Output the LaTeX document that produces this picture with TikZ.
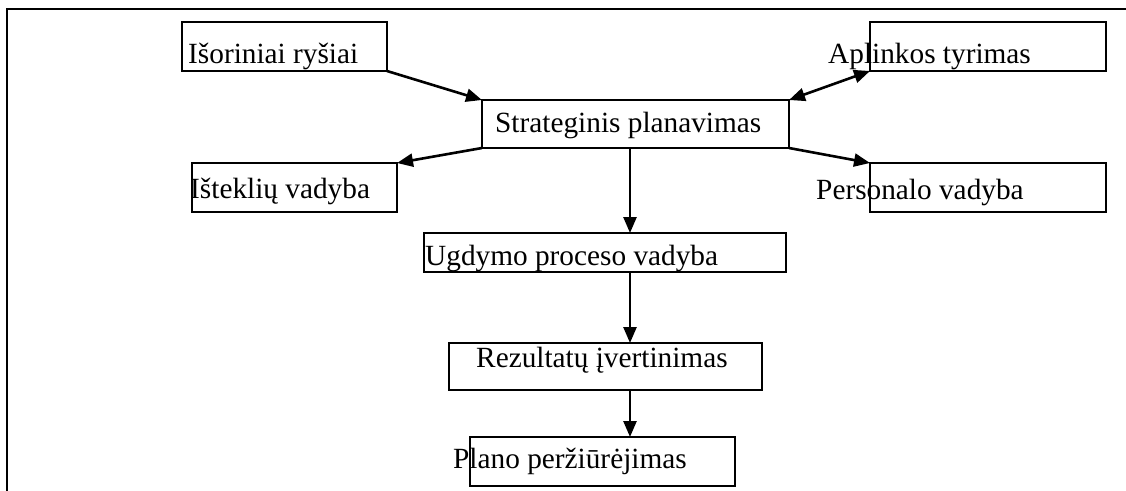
\documentclass[tikz,border=0pt]{standalone}
\usepackage{fontspec}
\setmainfont{Liberation Serif}
\usetikzlibrary{arrows.meta}
\begin{document}
\begin{tikzpicture}[x=1pt,y=-1pt,
  box/.style={draw=black,line width=2.4pt,inner sep=0pt,outer sep=0pt,anchor=north west,rectangle},
  lbl/.style={inner sep=0pt,anchor=base west,font=\fontsize{29.3}{34}\selectfont},
  conn/.style={line width=2.6pt,-{Triangle[length=16pt,width=13pt]}},
  biconn/.style={line width=2.6pt,{Triangle[length=16pt,width=13pt]}-{Triangle[length=16pt,width=13pt]}}]
\useasboundingbox (0,0) rectangle (1126,490);
\draw[line width=2.4pt] (7,491) -- (7,9) -- (1127,9);
% boxes
\node[box,minimum width=205pt,minimum height=49pt] (isor) at (182,22) {};
\node[box,minimum width=236pt,minimum height=49pt] (apl) at (870,22) {};
\node[box,minimum width=307pt,minimum height=48pt] (strat) at (482,100) {};
\node[box,minimum width=205pt,minimum height=49pt] (ist) at (192,163) {};
\node[box,minimum width=236pt,minimum height=49pt] (pers) at (870,163) {};
\node[box,minimum width=362pt,minimum height=39pt] (ugd) at (424,233) {};
\node[box,minimum width=313pt,minimum height=47pt] (rez) at (449,343) {};
\node[box,minimum width=265pt,minimum height=49pt] (plano) at (470,437) {};
% labels
\node[lbl] (tisor) at (188,63) {Išoriniai ryšiai};
\node[lbl] (tapl) at (828,63) {Aplinkos tyrimas};
\node[lbl] (tstrat) at (495,132) {Strateginis planavimas};
\node[lbl] (tist) at (190,198) {Išteklių vadyba};
\node[lbl] (tpers) at (816,199) {Personalo vadyba};
\node[lbl] (tugd) at (425,265) {Ugdymo proceso vadyba};
\node[lbl] (trez) at (476,367) {Rezultatų įvertinimas};
\node[lbl] (tplano) at (453,468) {Plano peržiūrėjimas};
% connectors
\coordinate (sb) at ([xshift=-5.5pt]strat.south);
\draw[conn] (isor.south east) -- (strat.north west);
\draw[conn] (strat.south west) -- (ist.north east);
\draw[biconn] (strat.north east) -- (apl.south west);
\draw[conn] (strat.south east) -- (pers.north west);
\draw[conn] (sb) -- (sb |- ugd.north);
\draw[conn] (sb |- ugd.south) -- (sb |- rez.north);
\draw[conn] (sb |- rez.south) -- (sb |- plano.north);
\end{tikzpicture}
\end{document}
